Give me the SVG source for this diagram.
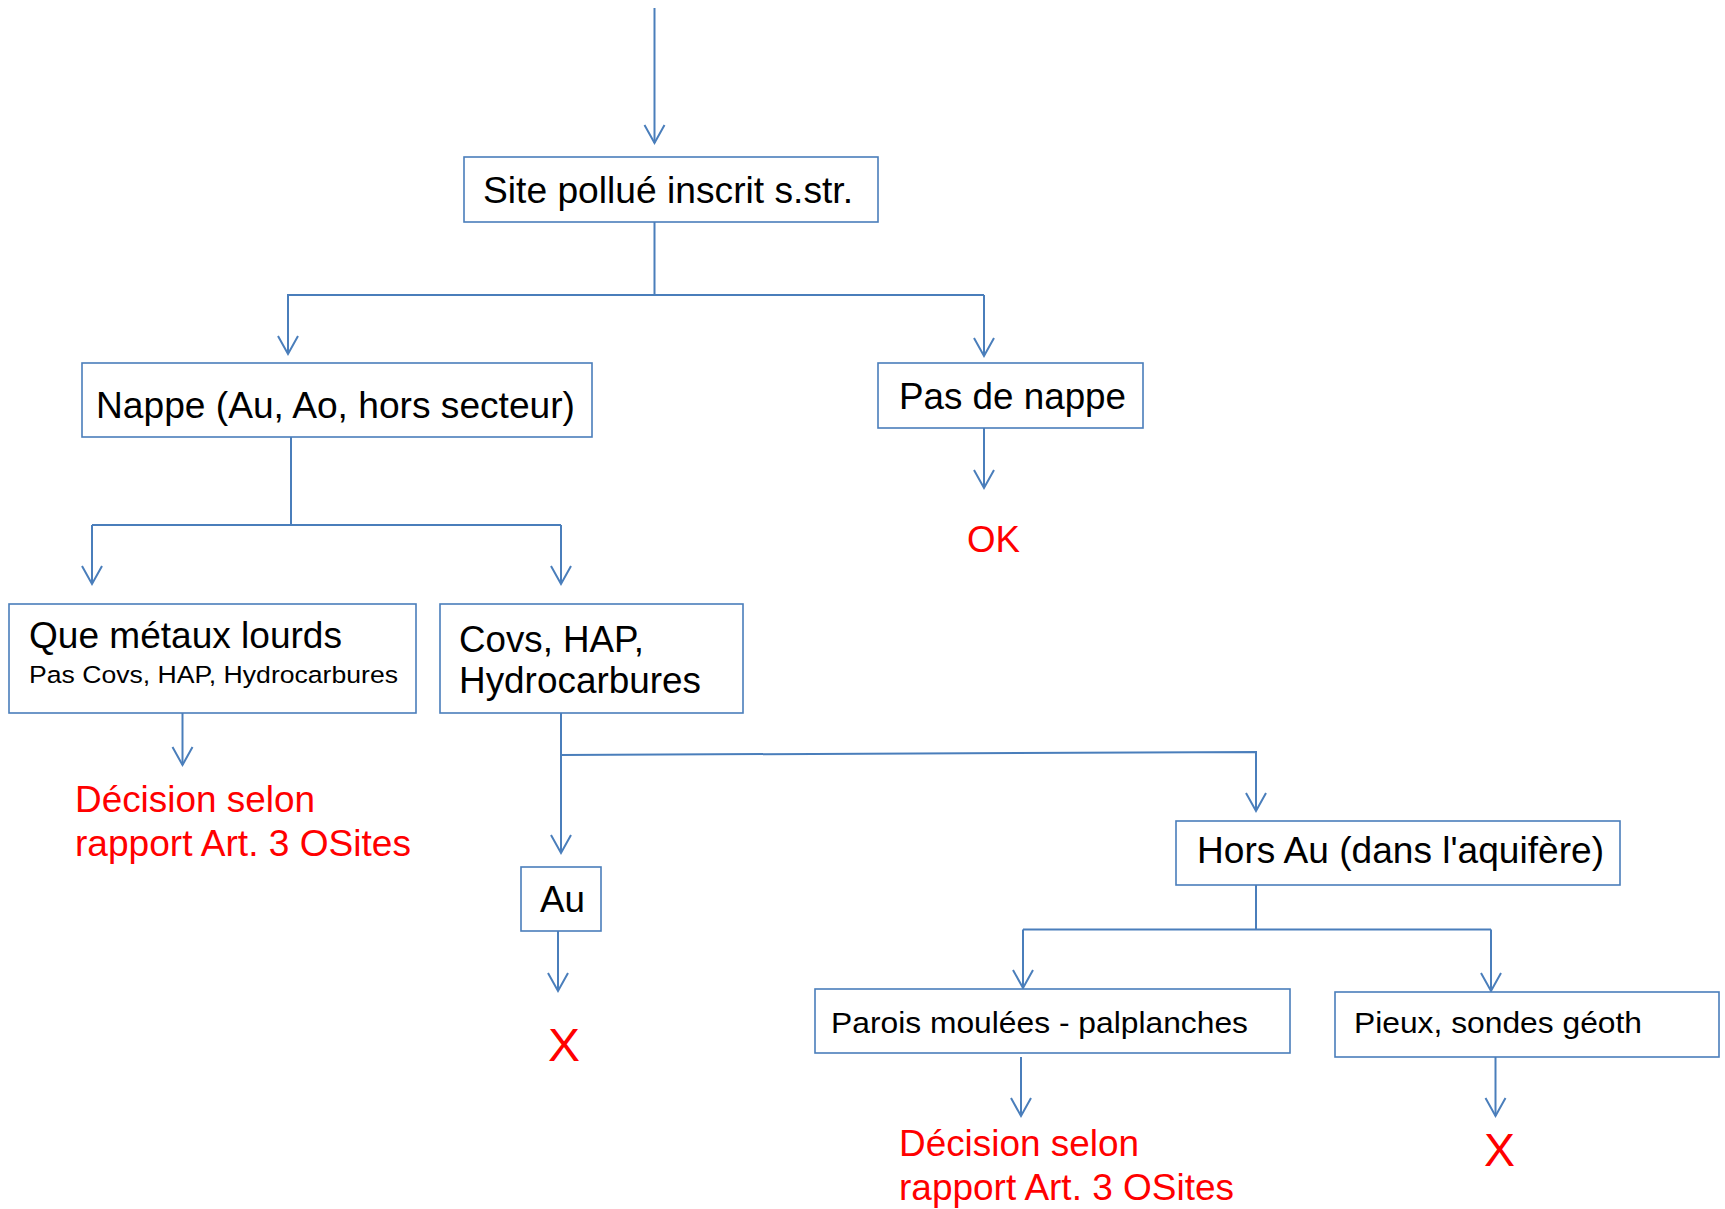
<svg xmlns="http://www.w3.org/2000/svg" width="1725" height="1209" viewBox="0 0 1725 1209">
<style>
.box{fill:#fff;stroke:#4a7ebb;stroke-width:1.6}
.ln{fill:none;stroke:#4a7ebb;stroke-width:2}
.t{font-family:"Liberation Sans",Arial,sans-serif;fill:#000}
.r{font-family:"Liberation Sans",Arial,sans-serif;fill:#ff0000}
</style>
<defs>
<marker id="ah" markerUnits="userSpaceOnUse" markerWidth="24" markerHeight="24" viewBox="-20 -12 22 24" refX="0" refY="0" orient="auto" overflow="visible">
<path d="M-18,-10 L0,0 L-18,10" fill="none" stroke="#4a7ebb" stroke-width="2"/>
</marker>
</defs>
<rect width="1725" height="1209" fill="#fff"/>
<g id="connectors">
<path class="ln" d="M654.5,8 V143" marker-end="url(#ah)"/>
<path class="ln" d="M654.5,222 V295 H984"/>
<path class="ln" d="M654.5,295 H288 V354" marker-end="url(#ah)"/>
<path class="ln" d="M984,295 V356" marker-end="url(#ah)"/>
<path class="ln" d="M984,428 V488" marker-end="url(#ah)"/>
<path class="ln" d="M291,437 V525"/>
<path class="ln" d="M92,525 H561"/>
<path class="ln" d="M92,525 V584" marker-end="url(#ah)"/>
<path class="ln" d="M561,525 V584" marker-end="url(#ah)"/>
<path class="ln" d="M182.5,706 V765" marker-end="url(#ah)"/>
<path class="ln" d="M561,713 V853" marker-end="url(#ah)"/>
<path class="ln" d="M561,755 L1256,752 V811" marker-end="url(#ah)"/>
<path class="ln" d="M558,931 V991" marker-end="url(#ah)"/>
<path class="ln" d="M1256,885 V929.5"/>
<path class="ln" d="M1023,929.5 H1491"/>
<path class="ln" d="M1023,929.5 V988" marker-end="url(#ah)"/>
<path class="ln" d="M1491,929.5 V991" marker-end="url(#ah)"/>
<path class="ln" d="M1021,1057 V1116" marker-end="url(#ah)"/>
<path class="ln" d="M1495.5,1057 V1116" marker-end="url(#ah)"/>
</g>
<g id="site">
<rect class="box" x="464" y="157" width="414" height="65"/>
<text class="t" x="483" y="203" font-size="37" textLength="370" lengthAdjust="spacingAndGlyphs">Site pollué inscrit s.str.</text>
</g>
<g id="nappe">
<rect class="box" x="82" y="363" width="510" height="74"/>
<text class="t" x="96" y="418" font-size="37" textLength="479" lengthAdjust="spacingAndGlyphs">Nappe (Au, Ao, hors secteur)</text>
</g>
<g id="pasdenappe">
<rect class="box" x="878" y="363" width="265" height="65"/>
<text class="t" x="899" y="409" font-size="37" textLength="227" lengthAdjust="spacingAndGlyphs">Pas de nappe</text>
</g>
<g id="ok">
<text class="r" x="967" y="552" font-size="37" textLength="53" lengthAdjust="spacingAndGlyphs">OK</text>
</g>
<g id="metaux">
<rect class="box" x="9" y="604" width="407" height="109"/>
<text class="t" x="29" y="648" font-size="36" textLength="313" lengthAdjust="spacingAndGlyphs">Que métaux lourds</text>
<text class="t" x="29" y="683" font-size="24.5" textLength="369" lengthAdjust="spacingAndGlyphs">Pas Covs, HAP, Hydrocarbures</text>
</g>
<g id="covs">
<rect class="box" x="440" y="604" width="303" height="109"/>
<text class="t" x="459" y="652" font-size="37" textLength="185" lengthAdjust="spacingAndGlyphs">Covs, HAP,</text>
<text class="t" x="459" y="693" font-size="37" textLength="242" lengthAdjust="spacingAndGlyphs">Hydrocarbures</text>
</g>
<g id="decision1">
<text class="r" x="75" y="812" font-size="37" textLength="240" lengthAdjust="spacingAndGlyphs">Décision selon</text>
<text class="r" x="75" y="856" font-size="37" textLength="336" lengthAdjust="spacingAndGlyphs">rapport Art. 3 OSites</text>
</g>
<g id="au">
<rect class="box" x="521" y="867" width="80" height="64"/>
<text class="t" x="540" y="912" font-size="37" textLength="45" lengthAdjust="spacingAndGlyphs">Au</text>
</g>
<g id="x1">
<text class="r" x="548" y="1061" font-size="46" textLength="32" lengthAdjust="spacingAndGlyphs">X</text>
</g>
<g id="horsau">
<rect class="box" x="1176" y="821" width="444" height="64"/>
<text class="t" x="1197" y="863" font-size="37" textLength="407" lengthAdjust="spacingAndGlyphs">Hors Au (dans l'aquifère)</text>
</g>
<g id="parois">
<rect class="box" x="815" y="989" width="475" height="64"/>
<text class="t" x="831" y="1033" font-size="29.5" textLength="417" lengthAdjust="spacingAndGlyphs">Parois moulées - palplanches</text>
</g>
<g id="pieux">
<rect class="box" x="1335" y="992" width="384" height="65"/>
<text class="t" x="1354" y="1033" font-size="29.5" textLength="288" lengthAdjust="spacingAndGlyphs">Pieux, sondes géoth</text>
</g>
<g id="decision2">
<text class="r" x="899" y="1156" font-size="37" textLength="240" lengthAdjust="spacingAndGlyphs">Décision selon</text>
<text class="r" x="899" y="1200" font-size="37" textLength="335" lengthAdjust="spacingAndGlyphs">rapport Art. 3 OSites</text>
</g>
<g id="x2">
<text class="r" x="1484" y="1166" font-size="46" textLength="31" lengthAdjust="spacingAndGlyphs">X</text>
</g>
</svg>
